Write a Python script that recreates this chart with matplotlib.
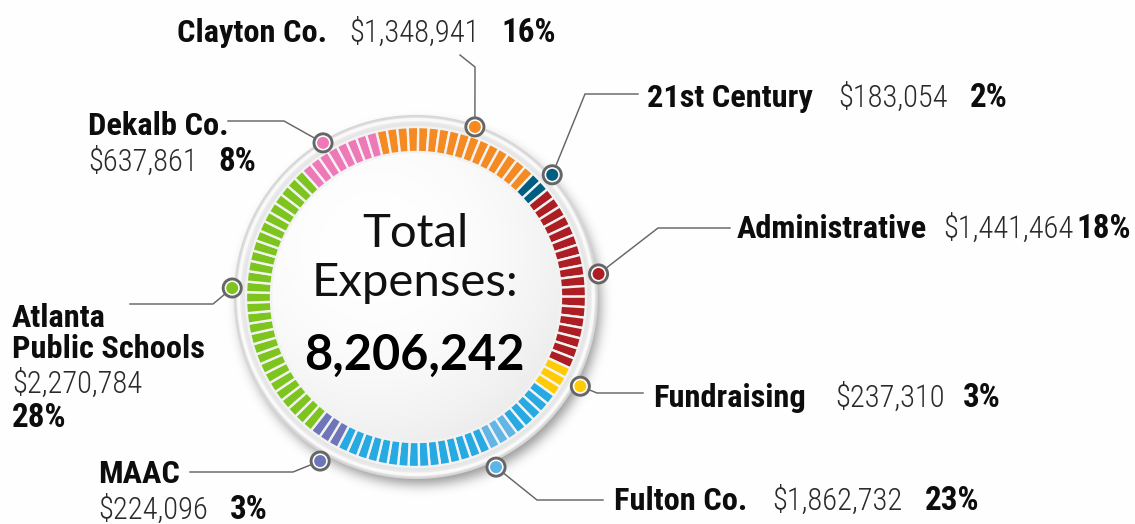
import numpy as np
import matplotlib
matplotlib.use("Agg")
import matplotlib.pyplot as plt
from matplotlib.patches import Circle
from matplotlib import font_manager as fm
from math import erf

# ---------------- data ----------------
categories = ["Clayton Co.", "21st Century", "Administrative", "Fundraising",
              "Fulton Co.", "MAAC", "Atlanta\nPublic Schools", "Dekalb Co."]
amounts = [1348941, 183054, 1441464, 237310, 1862732, 224096, 2270784, 637861]
colors = ["#F48A21", "#005E80", "#AC1E23", "#FFCB05",
          "#27AAE1", "#6F75B9", "#7DC41E", "#EE79B8"]
marker_colors = ["#F48A21", "#005E80", "#AC1E23", "#FFCB05",
                 "#5DB4E6", "#6F75B9", "#7DC41E", "#EE79B8"]
center_title = "Total\nExpenses:"

total = sum(amounts)
pcts = [round(100 * a / total) for a in amounts]
value_labels = [f"${a:,}" for a in amounts]
pct_labels = [f"{p}%" for p in pcts]
total_label = f"{total:,}"

# ---------------- fonts: look for a condensed face ----------------
PREF = ["liberation sans narrow", "roboto condensed", "noto sans", "dejavu sans",
        "open sans", "liberation sans", "lato", "inter"]


def _w(f):
    w = f.weight
    if isinstance(w, str):
        w = fm.weight_dict.get(w, 400)
    return int(w)


def find_condensed(target):
    best = None
    for f in fm.fontManager.ttflist:
        st = str(f.stretch).lower()
        nm = f.name.lower()
        p = f.fname.lower().split("/")[-1]
        if "italic" in p or "oblique" in p or f.style != "normal":
            continue
        cond = ("narrow" in nm or "narrow" in p or st == "condensed"
                or ("condensed" in p and "semi" not in p and "extra" not in p
                    and "ultra" not in p))
        if not cond:
            continue
        fam_rank = len(PREF)
        for k, n in enumerate(PREF):
            if nm.startswith(n):
                fam_rank = k
                break
        score = (fam_rank, abs(_w(f) - target))
        if best is None or score < best[0]:
            best = (score, f.fname)
    return best[1] if best else None


bold_path = find_condensed(700)
light_path = find_condensed(300)
if bold_path and light_path:
    BOLD_FP = fm.FontProperties(fname=bold_path)
    LIGHT_FP = fm.FontProperties(fname=light_path)
    FS_B, FS_V, FS_P = 23.3, 22, 23.8
else:
    BOLD_FP = fm.FontProperties(family=["Roboto", "DejaVu Sans"], weight="bold")
    LIGHT_FP = fm.FontProperties(family=["Roboto", "DejaVu Sans"], weight="light")
    FS_B, FS_V, FS_P = 19, 19, 19

# ---------------- layout (pixels, y down) ----------------
W, H = 1135, 524
CX, CY = 416, 297
START = 103.5
R_TICK, W_TICK = 170, 25
highlight_ticks = {44: "#62B5E5", 45: "#62B5E5", 46: "#62B5E5"}

marker_angle = [70.9, 41.9, 7.2, -28.5, -64.8, -120.3, 177.2, 121.1]
marker_r = [180, 183, 184, 187, 188, 190, 184, 180]

leaders = [
    [(460, 55), (475, 67)],
    [(638, 94), (585, 94)],
    [(730, 228), (658, 228)],
    [(643, 393), (597, 393)],
    [(603, 500), (537, 500)],
    [(190, 472), (293, 472)],
    [(130, 304), (213, 304)],
    [(228, 121), (284, 121)],
]

# (label x, label baseline, value x, value baseline, pct x, pct baseline)
text_pos = [
    (177, 42, 349, 42, 501, 42),
    (647, 107, 838, 107, 970, 107),
    (737, 238, 943, 238, 1076, 238),
    (653, 407, 835, 407, 963, 407),
    (614, 510, 772, 510, 925, 510),
    (98, 483, 98, 519, 230, 519),
    (12, 327, 12, 393, 12, 427),
    (88, 135, 88, 171, 218, 171),
]

fig = plt.figure(figsize=(W / 100, H / 100), dpi=100)
ax = fig.add_axes([0, 0, 1, 1])

# ---------------- background disc (rim, face, shadow) ----------------
yy, xx = np.mgrid[0:H, 0:W] + 0.5
r = np.hypot(xx - CX, yy - CY)
d = np.hypot(xx - (CX - 40), yy - (CY - 50))
face = 1.0 - 0.09 * np.clip(d / 230, 0, 1) ** 2.2
rim = np.interp(r, [168, 172, 175, 176.5, 178.5, 180, 182],
                [0.93, 0.90, 0.92, 0.985, 0.975, 0.86, 0.83])
disc = np.where(r < 170, face, rim)
rs = np.hypot(xx - (CX + 4), yy - (CY + 7))
verf = np.vectorize(erf)
z = np.clip((rs - 180) / 8.5, -4, 4)
sh = 0.42 * 0.5 * (1 - verf(z))
outside = 1.0 - sh
m = np.clip(182.5 - r, 0, 1)
lum = m * disc + (1 - m) * outside
img = np.dstack([lum, lum, lum])
ax.imshow(img, extent=(0, W, 0, H), origin="upper", zorder=0, interpolation="bilinear")

# ---------------- ticks via pie ----------------
tick_colors = []
for c, p in zip(colors, pcts):
    tick_colors += [c] * p
for i, col in highlight_ticks.items():
    tick_colors[i] = col
ax.pie(np.ones(len(tick_colors)), colors=tick_colors, startangle=START,
       counterclock=False, radius=R_TICK, center=(CX, H - CY),
       wedgeprops=dict(width=W_TICK, edgecolor="#f2f2f2", linewidth=1.7),
       frame=True)

# ---------------- leaders and markers ----------------
LC = "#666666"
for i in range(len(amounts)):
    a = np.deg2rad(marker_angle[i])
    mx = CX + marker_r[i] * np.cos(a)
    my = CY - marker_r[i] * np.sin(a)
    pts = leaders[i] + [(mx, my)]
    ax.plot([p[0] for p in pts], [H - p[1] for p in pts], color=LC, lw=1.05,
            solid_joinstyle="miter", zorder=3)
    ax.add_patch(Circle((mx, H - my), 10.5, color=LC, zorder=5, lw=0))
    ax.add_patch(Circle((mx, H - my), 7.6, color="white", zorder=6, lw=0))
    ax.add_patch(Circle((mx, H - my), 6.0, color=marker_colors[i], zorder=7, lw=0))

# ---------------- labels ----------------
for i in range(len(amounts)):
    lx, ly, vx, vy, px, py = text_pos[i]
    lines = categories[i].split("\n")
    for k, ln in enumerate(lines):
        ax.text(lx, H - (ly + k * 31), ln, fontsize=FS_B, ha="left", va="baseline",
                fontproperties=BOLD_FP, color="#0d0d0d")
    ax.text(vx, H - vy, value_labels[i], fontsize=FS_V, ha="left", va="baseline",
            fontproperties=LIGHT_FP, color="#2a2a2a")
    ax.text(px, H - py, pct_labels[i], fontsize=FS_P, ha="left", va="baseline",
            fontproperties=BOLD_FP, color="#0d0d0d")

# ---------------- center text ----------------
t1, t2 = center_title.split("\n")
ax.text(CX - 1, H - 247, t1, fontsize=34, ha="center", va="baseline",
        family=["Lato", "DejaVu Sans"], color="#111111")
ax.text(CX - 1, H - 296, t2, fontsize=34, ha="center", va="baseline",
        family=["Lato", "DejaVu Sans"], color="#111111")
ax.text(CX - 2, H - 370, total_label, fontsize=35, ha="center", va="baseline",
        family=["Lato", "DejaVu Sans"], weight="bold", color="#000000")

ax.set_xlim(0, W)
ax.set_ylim(0, H)
ax.set_aspect("equal")
ax.axis("off")
fig.savefig("out.png", dpi=100)
